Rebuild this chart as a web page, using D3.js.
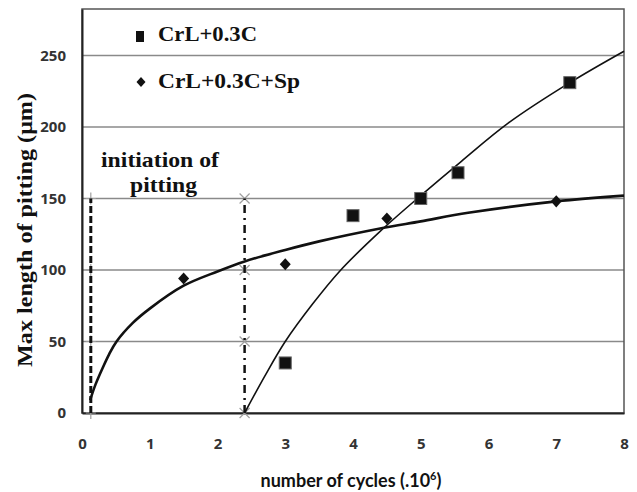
<!DOCTYPE html>
<html>
<head>
<meta charset="utf-8">
<script src="https://cdn.jsdelivr.net/npm/d3@7"></script>
<style>
    body { margin: 0; background: #fff; }
</style>
</head>
<body>
<div id="chart"></div>
<script>
// measured points
const crlX = [3, 4, 5, 5.55, 7.2];
const crlY = [35, 138, 150, 168, 231];
const spX = [1.5, 3, 4.5, 7];
const spY = [94, 104, 136, 148];

// trendlines
const crlFitX = [2.4, 2.7, 3.0, 3.4, 3.8, 4.4, 5.0, 5.6, 6.3, 7.2, 8.0];
const crlFitY = [0, 26, 50, 76, 99, 127, 152, 176, 203, 231, 253];
const spFitX = [0.12, 0.2, 0.3, 0.4, 0.51, 0.75, 1.0, 1.5, 2.0, 2.4, 3.0, 3.5, 4.4, 5.0, 5.7, 7.0, 8.0];
const spFitY = [9, 20, 31, 41, 50, 63, 73, 89, 99, 106, 114, 120, 129, 134, 140, 148, 152];

// initiation of pitting markers
const initX = [0.13, 2.4];
const initY = [0, 50, 100, 150];

const xTicks = [0, 1, 2, 3, 4, 5, 6, 7, 8];
const yTicks = [0, 50, 100, 150, 200, 250];

const width = 637;
const height = 492;
const margin = {top: 9, right: 13, bottom: 79, left: 82};

const svg = d3.select('#chart')
    .append('svg')
        .attr('width', width)
        .attr('height', height);

const x = d3.scaleLinear()
    .domain([0, 8])
    .range([margin.left, width - margin.right]);
const y = d3.scaleLinear()
    .domain([0, 282.5])
    .range([height - margin.bottom, margin.top]);

// gridlines
svg.append('g')
    .attr('stroke', '#8a8a8a')
    .attr('stroke-width', 1.5)
    .selectAll('line')
    .data(yTicks.filter(d => d > 0))
    .join('line')
        .attr('x1', x(0))
        .attr('x2', x(8))
        .attr('y1', d => y(d))
        .attr('y2', d => y(d));

// frame
svg.append('rect')
    .attr('x', x(0))
    .attr('y', y(282.5))
    .attr('width', x(8) - x(0))
    .attr('height', y(0) - y(282.5))
    .attr('fill', 'none')
    .attr('stroke', '#555')
    .attr('stroke-width', 1.5);

// axes (no tick marks, just labels)
const xAxis = svg.append('g')
    .attr('transform', `translate(0, ${y(0)})`)
    .call(d3.axisBottom(x).tickValues(xTicks).tickSize(0).tickPadding(25).tickFormat(d3.format('d')));
const yAxis = svg.append('g')
    .attr('transform', `translate(${x(0)}, 0)`)
    .call(d3.axisLeft(y).tickValues(yTicks).tickSize(0).tickPadding(16).tickFormat(d3.format('d')));
[xAxis, yAxis].forEach(axis => {
    axis.select('.domain').attr('stroke', '#222').attr('stroke-width', 2);
    axis.selectAll('text')
        .style('font-family', '"Open Sans", sans-serif')
        .style('font-size', '15px')
        .style('font-weight', 700)
        .attr('fill', '#333');
});

// gray markers on the initiation lines
const markers = svg.append('g')
    .attr('stroke', '#a0a0a0')
    .attr('stroke-width', 1.2)
    .attr('fill', 'none');
markers.selectAll('path.plus')
    .data(initY)
    .join('path')
        .attr('class', 'plus')
        .attr('d', d => `M${x(initX[0])},${y(d) - 6}V${y(d) + 6}M${x(initX[0]) - 5},${y(d)}H${x(initX[0]) + 5}`);
markers.selectAll('path.cross')
    .data(initY)
    .join('path')
        .attr('class', 'cross')
        .attr('d', d => `M${x(initX[1]) - 5},${y(d) - 5}L${x(initX[1]) + 5},${y(d) + 5}M${x(initX[1]) - 5},${y(d) + 5}L${x(initX[1]) + 5},${y(d) - 5}`);

// vertical lines: dashed and dash-dot
svg.append('line')
    .attr('x1', x(initX[0])).attr('x2', x(initX[0]))
    .attr('y1', y(0)).attr('y2', y(150))
    .attr('stroke', '#111')
    .attr('stroke-width', 3)
    .attr('stroke-dasharray', '7 3');
svg.append('line')
    .attr('x1', x(initX[1])).attr('x2', x(initX[1]))
    .attr('y1', y(0)).attr('y2', y(150))
    .attr('stroke', '#111')
    .attr('stroke-width', 2.5)
    .attr('stroke-dasharray', '8 5 2 5');

// trendlines
const line = d3.line()
    .x(d => x(d[0]))
    .y(d => y(d[1]))
    .curve(d3.curveCatmullRom);
svg.append('path')
    .attr('d', line(spFitX.map((d, i) => [d, spFitY[i]])))
    .attr('fill', 'none')
    .attr('stroke', '#111')
    .attr('stroke-width', 2.6);
svg.append('path')
    .attr('d', line(crlFitX.map((d, i) => [d, crlFitY[i]])))
    .attr('fill', 'none')
    .attr('stroke', '#111')
    .attr('stroke-width', 1.6);

// points
svg.append('g')
    .selectAll('rect')
    .data(crlX.map((d, i) => [d, crlY[i]]))
    .join('rect')
        .attr('x', d => x(d[0]) - 6)
        .attr('y', d => y(d[1]) - 6)
        .attr('width', 12)
        .attr('height', 12)
        .attr('fill', '#111')
        .attr('stroke', '#666')
        .attr('stroke-width', 1);
const diamond = r => `M0,${-r * 1.1}L${r},0L0,${r * 1.1}L${-r},0Z`;
svg.append('g')
    .selectAll('path')
    .data(spX.map((d, i) => [d, spY[i]]))
    .join('path')
        .attr('transform', d => `translate(${x(d[0])}, ${y(d[1])})`)
        .attr('d', diamond(5.5))
        .attr('fill', '#111');

// legend
const legend = svg.append('g')
    .style('font-family', '"Liberation Serif", "Times New Roman", serif')
    .style('font-weight', 700)
    .style('font-size', '21px')
    .attr('fill', '#111');
legend.append('rect')
    .attr('x', 136).attr('y', 31)
    .attr('width', 8).attr('height', 11)
    .attr('fill', '#111');
legend.append('text')
    .attr('x', 158).attr('y', 41)
    .attr('textLength', 99)
    .attr('lengthAdjust', 'spacingAndGlyphs')
    .text('CrL+0.3C');
legend.append('path')
    .attr('transform', 'translate(141, 82)')
    .attr('d', diamond(4.5))
    .attr('fill', '#111');
legend.append('text')
    .attr('x', 158).attr('y', 88)
    .attr('textLength', 142)
    .attr('lengthAdjust', 'spacingAndGlyphs')
    .text('CrL+0.3C+Sp');

// annotation
legend.append('text')
    .attr('x', 101).attr('y', 167)
    .attr('textLength', 118)
    .attr('lengthAdjust', 'spacingAndGlyphs')
    .text('initiation of');
legend.append('text')
    .attr('x', 130).attr('y', 192)
    .attr('textLength', 67)
    .attr('lengthAdjust', 'spacingAndGlyphs')
    .text('pitting');

// axis titles
svg.append('text')
    .attr('transform', 'translate(32, 230) rotate(-90)')
    .attr('text-anchor', 'middle')
    .attr('textLength', 274)
    .attr('lengthAdjust', 'spacingAndGlyphs')
    .style('font-family', '"Liberation Serif", "Times New Roman", serif')
    .style('font-weight', 700)
    .style('font-size', '21px')
    .attr('fill', '#111')
    .text('Max length of pitting (μm)');

const xTitle = svg.append('text')
    .attr('x', 351)
    .attr('y', 487)
    .attr('text-anchor', 'middle')
    .style('font-family', 'Lato, sans-serif')
    .style('font-weight', 700)
    .style('font-size', '18px')
    .attr('fill', '#111');
xTitle.append('tspan').text('number of cycles (.10');
xTitle.append('tspan').attr('dy', -7).style('font-size', '11px').text('6');
xTitle.append('tspan').attr('dy', 7).text(')');
</script>
</body>
</html>
